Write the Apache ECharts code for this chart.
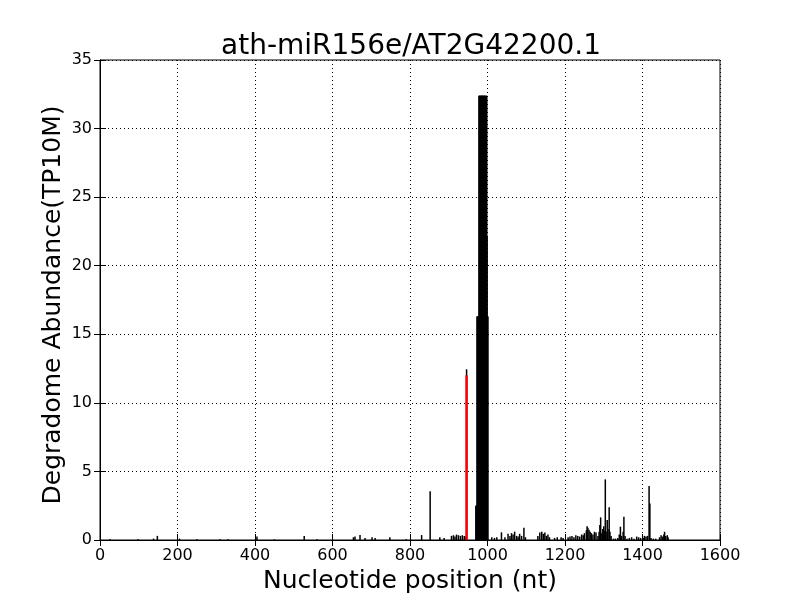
<!DOCTYPE html>
<html>
<head>
<meta charset="utf-8">
<script src="https://cdn.jsdelivr.net/npm/echarts@6/dist/echarts.min.js"></script>
<style>
  html, body { margin: 0; padding: 0; background: #fff; }
  #main { width: 800px; height: 600px; }
</style>
</head>
<body>
<div id="main"></div>
<script>
// degradome coverage (position in nt, abundance in TP10M)
const positions = [
  26, 98, 138, 148, 205, 250, 310, 330, 405, 450, 527, 560,
  654, 658, 671, 684, 702, 710, 748, 790, 830, 852, 877, 888,
  907, 912, 916, 920, 925, 930, 935, 940, 943, 946,
  970, 971, 972, 973, 974, 975, 976, 977,
  978, 979, 980, 981, 982, 983, 984, 985, 986, 987, 988, 989, 990, 991, 992, 993, 994,
  995, 996, 997, 998, 999, 1000, 1001,
  1011, 1018, 1024, 1036, 1045, 1053, 1058, 1062, 1066, 1070, 1075, 1079, 1083, 1088, 1094, 1098,
  1130, 1135, 1140, 1144, 1148, 1152, 1156, 1160, 1173, 1180, 1190, 1195,
  1208, 1213, 1218, 1223, 1228, 1233, 1238, 1243, 1247, 1250, 1255, 1257, 1259, 1262, 1265, 1268,
  1272, 1276, 1280, 1285, 1288, 1290, 1292, 1295, 1297, 1300, 1302, 1304, 1306, 1309, 1311, 1314,
  1316, 1319, 1325, 1330, 1336, 1340, 1343, 1346, 1350, 1352, 1355, 1360, 1366, 1372, 1378, 1385,
  1390, 1395, 1402, 1405, 1409, 1413, 1417, 1419, 1422, 1428, 1434, 1444, 1448, 1452, 1455, 1457,
  1460, 1464, 1466
];
const abundance = [
  0.05, 0.05, 0.1, 0.3, 0.1, 0.05, 0.05, 0.05, 0.25, 0.05, 0.3, 0.05,
  0.2, 0.25, 0.36, 0.15, 0.2, 0.15, 0.2, 0.05, 0.36, 3.55, 0.2, 0.15,
  0.3, 0.35, 0.25, 0.4, 0.35, 0.3, 0.35, 0.3, 0.25, 12.45,
  2.5, 2.5, 2.5, 16.3, 16.3, 16.3, 16.3, 16.3,
  32.4, 32.4, 32.4, 32.4, 32.4, 32.4, 32.4, 32.4, 32.4, 32.4, 32.4, 32.4, 32.4, 32.4, 32.4, 32.4, 32.4,
  16.3, 32.4, 32.4, 32.4, 22.1, 16.3, 16.3,
  0.2, 0.15, 0.2, 0.56, 0.2, 0.45, 0.3, 0.5, 0.4, 0.61, 0.3, 0.25, 0.45, 0.3, 0.9, 0.2,
  0.3, 0.55, 0.6, 0.45, 0.55, 0.3, 0.4, 0.2, 0.15, 0.2, 0.2, 0.15,
  0.2, 0.25, 0.3, 0.2, 0.35, 0.3, 0.25, 0.4, 0.35, 0.5, 0.7, 1.0, 0.9, 0.75, 0.6, 0.5,
  0.4, 0.6, 0.55, 0.3, 0.6, 1.1, 1.65, 0.5, 0.8, 1.0, 0.7, 4.42, 0.6, 1.46, 0.8, 2.38,
  0.6, 0.3, 0.1, 0.1, 0.15, 0.4, 0.97, 0.3, 0.6, 1.7, 0.3, 0.1, 0.15, 0.2, 0.1, 0.25,
  0.2, 0.15, 0.15, 0.3, 0.25, 0.3, 3.94, 2.67, 0.15, 0.1, 0.1, 0.2, 0.35, 0.25, 0.4, 0.6,
  0.3, 0.35, 0.2
];
// predicted miRNA cleavage site
const cleavePos = [946];
const cleaveVal = [12.0];

const xTicks = [0, 200, 400, 600, 800, 1000, 1200, 1400, 1600];
const yTicks = [0, 5, 10, 15, 20, 25, 30, 35];

const chart = echarts.init(document.getElementById("main"), null, { renderer: "canvas" });

const font = "DejaVu Sans";
const tickLabel = { fontFamily: font, fontSize: 16, color: "#000", formatter: (v) => String(v) };
const gridLine = { show: true, lineStyle: { color: "#000", width: 1, type: [1, 3] } };
const innerTick = { show: true, inside: true, length: 6, lineStyle: { color: "#000" } };

const option = {
  animation: false,
  backgroundColor: "#fff",
  title: {
    text: "ath-miR156e/AT2G42200.1",
    left: 406,
    top: 28,
    textAlign: "center",
    textStyle: { fontFamily: font, fontSize: 28, fontWeight: "normal", color: "#000" },
  },
  grid: {
    left: 100, right: 80, top: 60, bottom: 60,
    show: true, borderColor: "#000", borderWidth: 1, backgroundColor: "#fff",
  },
  xAxis: [
    {
      type: "value",
      min: xTicks[0], max: xTicks[xTicks.length - 1], interval: 200,
      name: "Nucleotide position (nt)",
      nameLocation: "middle",
      nameGap: 28,
      nameTextStyle: { fontFamily: font, fontSize: 25, color: "#000" },
      axisLine: { show: true, lineStyle: { color: "#000" } },
      axisTick: innerTick,
      axisLabel: { ...tickLabel, margin: 8 },
      splitLine: gridLine,
    },
    {
      type: "value", position: "top",
      min: xTicks[0], max: xTicks[xTicks.length - 1], interval: 200,
      axisLine: { show: true, lineStyle: { color: "#000" } },
      axisTick: innerTick,
      axisLabel: { show: false },
      splitLine: { show: false },
    },
  ],
  yAxis: [
    {
      type: "value",
      min: yTicks[0], max: yTicks[yTicks.length - 1], interval: 5,
      name: "Degradome Abundance(TP10M)",
      nameLocation: "middle",
      nameGap: 34,
      nameMoveOverlap: false,
      nameTextStyle: { fontFamily: font, fontSize: 25, color: "#000", padding: [0, 10, 0, 0] },
      axisLine: { show: true, lineStyle: { color: "#000" } },
      axisTick: innerTick,
      axisLabel: { ...tickLabel, margin: 8 },
      splitLine: gridLine,
    },
    {
      type: "value", position: "right",
      min: yTicks[0], max: yTicks[yTicks.length - 1], interval: 5,
      axisLine: { show: true, lineStyle: { color: "#000" } },
      axisTick: innerTick,
      axisLabel: { show: false },
      splitLine: { show: false },
    },
  ],
  series: [
    {
      name: "abundance",
      type: "bar",
      xAxisIndex: 0,
      yAxisIndex: 0,
      barWidth: 1.5,
      itemStyle: { color: "#000" },
      data: positions.map((p, i) => [p, abundance[i]]),
    },
    {
      name: "cleavage site",
      type: "bar",
      xAxisIndex: 1,
      yAxisIndex: 0,
      barWidth: 2.5,
      itemStyle: { color: "#ff0000" },
      data: cleavePos.map((p, i) => [p, cleaveVal[i]]),
    },
  ],
};

chart.setOption(option);
</script>
</body>
</html>
